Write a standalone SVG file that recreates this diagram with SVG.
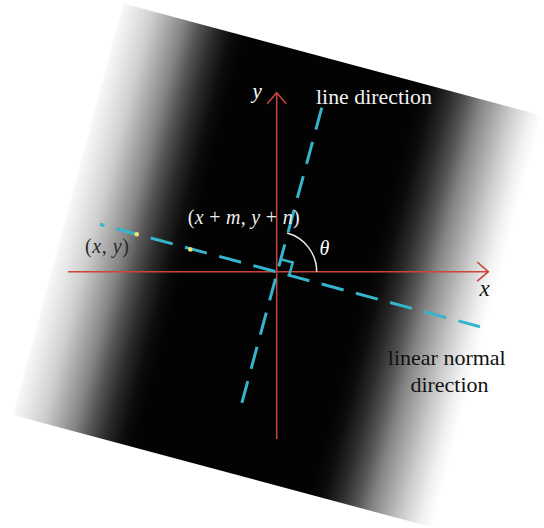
<svg xmlns="http://www.w3.org/2000/svg" width="544" height="528" viewBox="0 0 544 528">
  <defs>
    <linearGradient id="band" x1="0" y1="0" x2="1" y2="0">
      <stop offset="0" stop-color="#f8f8f8"/>
      <stop offset="0.03" stop-color="#e8e8e8"/>
      <stop offset="0.07" stop-color="#cfcfcf"/>
      <stop offset="0.11" stop-color="#a8a8a8"/>
      <stop offset="0.145" stop-color="#858585"/>
      <stop offset="0.18" stop-color="#555555"/>
      <stop offset="0.22" stop-color="#2a2a2a"/>
      <stop offset="0.26" stop-color="#0c0c0c"/>
      <stop offset="0.29" stop-color="#030303"/>
      <stop offset="0.71" stop-color="#030303"/>
      <stop offset="0.74" stop-color="#0c0c0c"/>
      <stop offset="0.78" stop-color="#2a2a2a"/>
      <stop offset="0.82" stop-color="#555555"/>
      <stop offset="0.855" stop-color="#858585"/>
      <stop offset="0.89" stop-color="#a8a8a8"/>
      <stop offset="0.93" stop-color="#cfcfcf"/>
      <stop offset="0.97" stop-color="#f0f0f0"/>
      <stop offset="1" stop-color="#ffffff"/>
    </linearGradient>
    <marker id="arrow" markerUnits="userSpaceOnUse" viewBox="-13 -11 15 22" markerWidth="15" markerHeight="22" refX="0" refY="0" orient="auto">
      <path d="M-11,-9.5 L0,0 L-11,9.5" fill="none" stroke="#c8463a" stroke-width="1.6"/>
    </marker>
  </defs>
  <style>
    .axis { stroke: #c8463a; stroke-width: 1.5; fill: none; }
    .dash { stroke: #35b4cc; stroke-width: 3; fill: none; stroke-dasharray: 22.7 12.7; }
    .serif { font-family: "Liberation Serif", "Times New Roman", serif; }
    .it { font-style: italic; }
  </style>

  <g id="background">
    <rect transform="translate(123.3,3.5) rotate(15)" x="0" y="0" width="434" height="426" fill="url(#band)"/>
  </g>

  <g id="axes">
    <line class="axis" x1="68" y1="271.7" x2="488.3" y2="271.7" marker-end="url(#arrow)"/>
    <line class="axis" x1="276.7" y1="439" x2="276.7" y2="92.7" marker-end="url(#arrow)"/>
  </g>

  <g id="connectors">
    <line id="line-direction" class="dash" x1="321.8" y1="107.7" x2="241.5" y2="404.3"/>
    <line id="normal-direction" class="dash" x1="100" y1="224.3" x2="480" y2="326.7" style="stroke-dashoffset:18.2"/>
    <polyline id="right-angle" points="280.1,259.1 292.7,262.5 289.3,275.1" fill="none" stroke="#35b4cc" stroke-width="2.5"/>
    <path id="theta-arc" d="M316.7,271.7 A40,40 0 0 0 287.05,233.06" fill="none" stroke="#e8e8e8" stroke-width="1.5"/>
  </g>

  <g id="points">
    <circle id="p-xy" cx="136.7" cy="234.3" r="2.3" fill="#f3e26a"/>
    <circle id="p-xmyn" cx="190.3" cy="249.5" r="2.3" fill="#f3e26a"/>
  </g>

  <g id="labels" class="serif">
    <text id="label-y" class="it" x="252.5" y="98" font-size="21" fill="#ffffff">y</text>
    <text id="label-x" class="it" x="479.5" y="296" font-size="23" fill="#111111">x</text>
    <text id="label-line-direction" x="316" y="104" font-size="22" fill="#f2f2f2" textLength="116" lengthAdjust="spacingAndGlyphs">line direction</text>
    <text id="label-xmyn" x="187.7" y="223.5" font-size="20" fill="#eeeeee" textLength="112" lengthAdjust="spacing">(<tspan class="it">x</tspan> + <tspan class="it">m</tspan>, <tspan class="it">y</tspan> + <tspan class="it">n</tspan>)</text>
    <text id="label-xy" x="85" y="252.5" font-size="20" fill="#2a2a2a" textLength="44" lengthAdjust="spacing">(<tspan class="it">x</tspan>, <tspan class="it">y</tspan>)</text>
    <text id="label-theta" class="it" x="319.5" y="255" font-size="20" fill="#ffffff">θ</text>
    <text id="label-normal" font-size="22" fill="#111111" text-anchor="middle">
      <tspan x="449.5" y="365">linear normal</tspan>
      <tspan x="449.5" y="391.7">direction</tspan>
    </text>
  </g>
</svg>
